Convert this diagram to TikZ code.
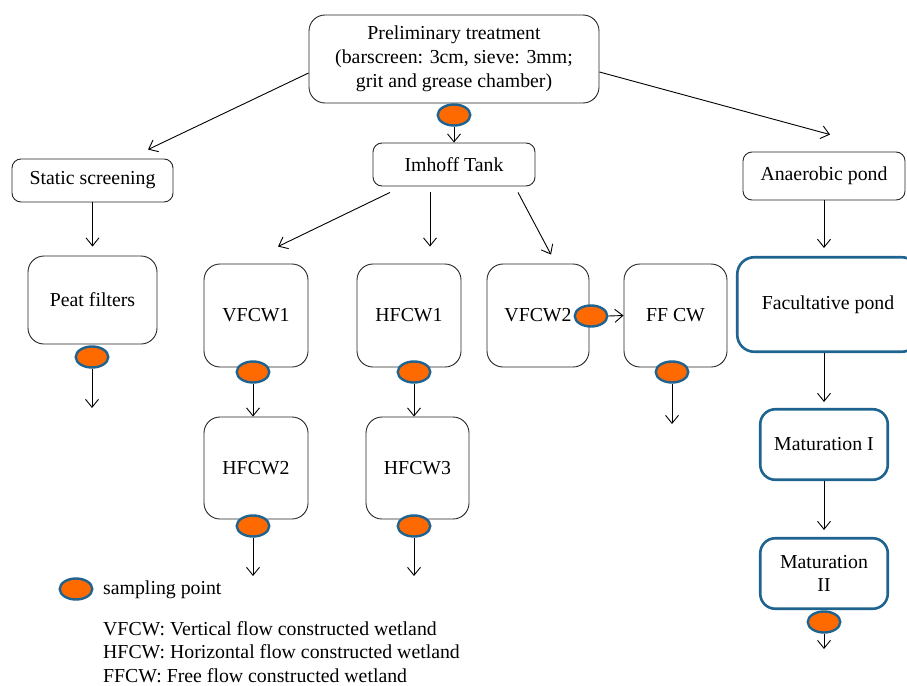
\documentclass[tikz,border=0pt]{standalone}
\usepackage{fontspec}
\setmainfont{Liberation Serif}
\usetikzlibrary{shapes.geometric,arrows.meta,calc}
\definecolor{sblue}{HTML}{1F6391}
\definecolor{sorange}{HTML}{FF6A00}
\begin{document}
\begin{tikzpicture}[x=1pt,y=-1pt,
 font=\fontsize{19.8}{23.8}\selectfont,
 box/.style={draw=black!85, line width=0.9pt, rounded corners=9pt, align=center, inner sep=0pt},
 bigbox/.style={box, rounded corners=16pt},
 bluebox/.style={draw=sblue, line width=2.6pt, rounded corners=15pt, align=center, inner sep=0pt},
 spt/.style={ellipse, draw=sblue, fill=sorange, line width=2.4pt, minimum width=32.5pt, minimum height=21pt, inner sep=0pt},
 flow/.style={-{Straight Barb[length=8pt,width=13pt]}, line width=0.9pt},
 deftext/.style={anchor=base west, inner sep=0pt}
 ]
\useasboundingbox (0,0) rectangle (907,685);

% boxes
\node[bigbox, minimum width=290, minimum height=88] (pre) at (454,59) {Preliminary treatment\\(barscreen: 3cm, sieve: 3mm;\\grit and grease chamber)};
\node[box, minimum width=162, minimum height=43] (imh) at (454,164.5) {Imhoff Tank};
\node[box, minimum width=161, minimum height=43] (sta) at (92.5,180.5) {Static screening};
\node[box, minimum width=162, minimum height=48] (ana) at (824,176) {Anaerobic pond};
\node[bigbox, minimum width=129, minimum height=88] (peat) at (92.5,300) {Peat filters};
\node[bigbox, minimum width=104, minimum height=103] (vf1) at (256,315.5) {VFCW1};
\node[bigbox, minimum width=104, minimum height=103] (hf1) at (409,315.5) {HFCW1};
\node[bigbox, minimum width=102, minimum height=103] (vf2) at (538,315.5) {VFCW2};
\node[bigbox, minimum width=103, minimum height=103] (ff) at (675.5,315.5) {FF CW};
\node[bigbox, minimum width=104, minimum height=102] (hf2) at (256,468) {HFCW2};
\node[bigbox, minimum width=103, minimum height=102] (hf3) at (417.5,468) {HFCW3};
\node[bluebox, minimum width=181.5, minimum height=94.5, rounded corners=17pt] (fac) at (828,304.5) {Facultative pond};
\node[bluebox, minimum width=127.5, minimum height=70.5] (m1) at (824,444.5) {Maturation I};
\node[bluebox, minimum width=127.5, minimum height=70.5] (m2) at (824,573.5) {Maturation\\II};

% sampling points
\node[spt] (s0) at (454,115) {};
\node[spt] (s1) at (92,357) {};
\node[spt] (s2) at (253,372) {};
\node[spt] (s3) at (414,372) {};
\node[spt] (s4) at (591,316) {};
\node[spt] (s5) at (672,372) {};
\node[spt] (s6) at (253,526) {};
\node[spt] (s7) at (414,526) {};
\node[spt] (s8) at (824,622) {};

% free ends
\coordinate (e1) at (92,408);
\coordinate (e5) at (672,424);
\coordinate (e6) at (253,576);
\coordinate (e7) at (414,576);
\coordinate (e8) at (824,649);

% connectors
\draw[flow] (s0.south) -- (imh.north);
\draw[flow] ([yshift=-14pt]pre.west) -- ([xshift=55.5pt,yshift=9pt]sta.north);
\draw[flow] ([yshift=-13pt]pre.east) -- ([xshift=6pt,yshift=17pt]ana.north);
\draw[flow] (sta.south) -- ([yshift=9pt]peat.north);
\draw[flow] (s1.south) -- (e1);
\draw[flow] ([xshift=-64pt,yshift=-6pt]imh.south) -- ([xshift=22pt,yshift=17pt]vf1.north);
\draw[flow] ([xshift=-24pt,yshift=-6pt]imh.south) -- ([xshift=21pt,yshift=17pt]hf1.north);
\draw[flow] ([xshift=64pt,yshift=-6pt]imh.south) -- ([xshift=13pt,yshift=9pt]vf2.north);
\draw[flow] (s2.south) -- (s2.south |- hf2.north);
\draw[flow] (s3.south) -- (s3.south |- hf3.north);
\draw[flow] (s4.east) -- (ff.west);
\draw[flow] (s5.south) -- (e5);
\draw[flow] (s6.south) -- (e6);
\draw[flow] (s7.south) -- (e7);
\draw[flow] (s8.south) -- (e8);
\draw[flow] (ana.south) -- ($(ana.south |- fac.north)+(0,-8)$);
\draw[flow] (m1.north |- fac.south) -- ($(m1.north)+(0,-6)$);
\draw[flow] (m1.south) -- ($(m2.north)+(0,-7)$);

% legend
\node[spt] (sl) at (76,589) {};
\node[deftext] (lt) at (103,594) {sampling point};
\node[deftext] (d1) at (103,635) {VFCW: Vertical flow constructed wetland};
\node[deftext] (d2) at (103,658.5) {HFCW: Horizontal flow constructed wetland};
\node[deftext] (d3) at (103,682) {FFCW: Free flow constructed wetland};
\end{tikzpicture}
\end{document}
